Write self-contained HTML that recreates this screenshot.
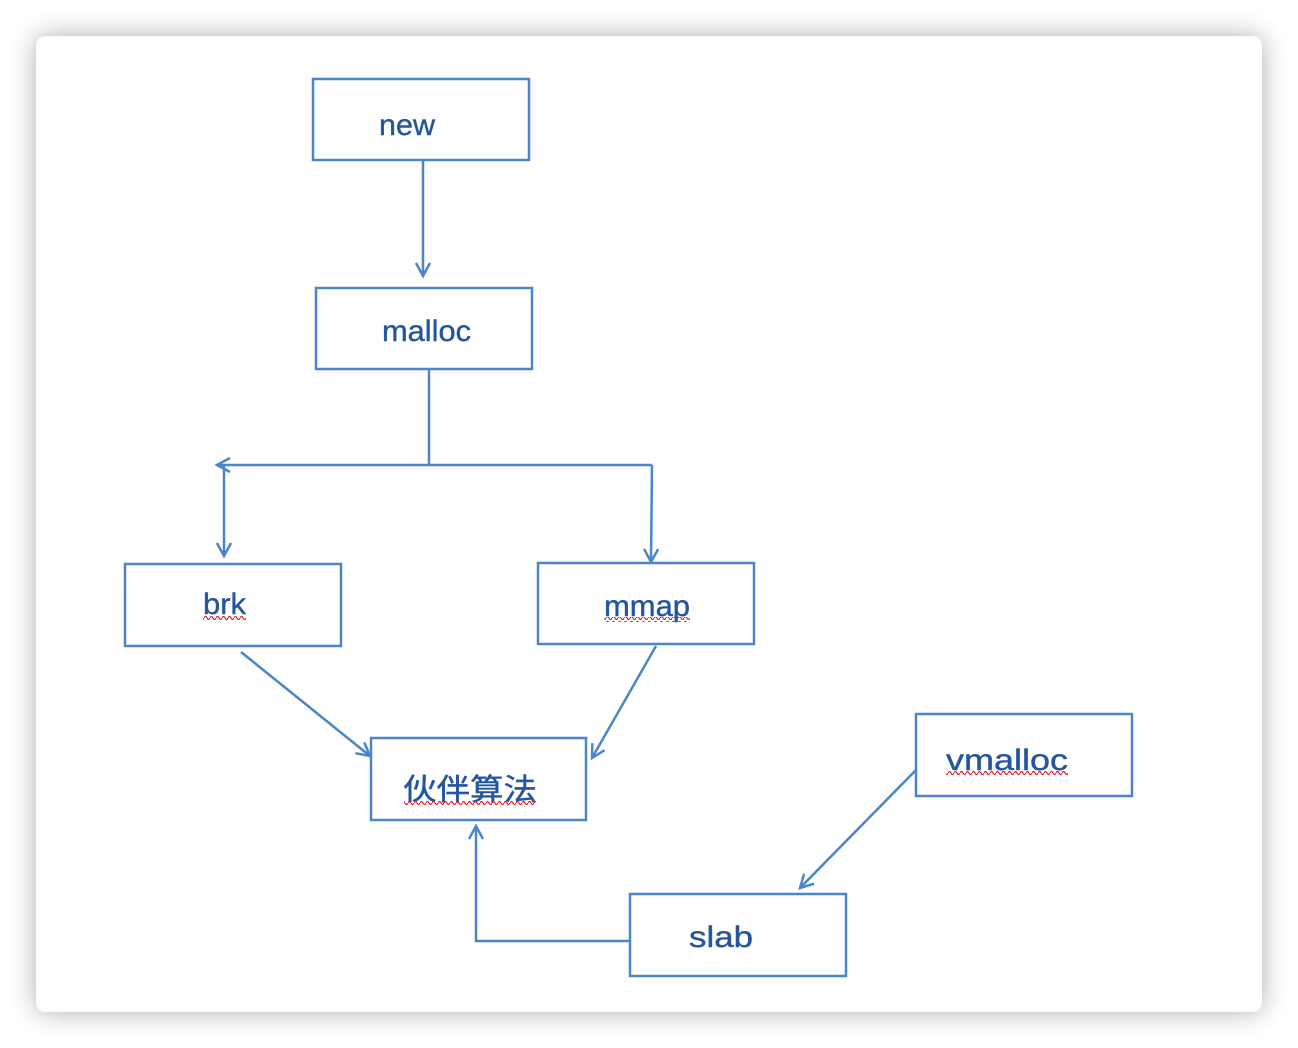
<!DOCTYPE html>
<html><head><meta charset="utf-8"><style>
html,body{margin:0;padding:0;background:#fff;}
body{width:1298px;height:1048px;position:relative;overflow:hidden;background:#fff;}
.card{position:absolute;left:36px;top:36px;width:1226px;height:976px;background:#fff;border-radius:10px;box-shadow:0 0 26px rgba(0,0,0,0.32);}
svg{position:absolute;left:0;top:0;}
text{font-family:"Liberation Sans","Noto Sans CJK SC",sans-serif;font-size:30px;fill:#2456a0;stroke:#2456a0;stroke-width:0.4;}
</style></head><body>
<div class="card"></div>
<svg width="1298" height="1048" viewBox="0 0 1298 1048">
<defs>
<marker id="a" markerWidth="20" markerHeight="20" refX="14" refY="8" orient="auto" markerUnits="userSpaceOnUse">
<path d="M1,1 L14,8 L1,15" fill="none" stroke="#4a86c8" stroke-width="2.5"/>
</marker>
<pattern id="w" width="6" height="5" patternUnits="userSpaceOnUse">
<path d="M0,3 Q1.5,0 3,3 T6,3" fill="none" stroke="#e02020" stroke-width="1.2"/>
</pattern>
</defs>
<g fill="none" stroke="#4a86c8" stroke-width="2.5">
<rect x="313" y="79" width="216" height="81"/>
<rect x="316" y="288" width="216" height="81"/>
<rect x="125" y="564" width="216" height="82"/>
<rect x="538" y="563" width="216" height="81"/>
<rect x="371" y="738" width="215" height="82"/>
<rect x="916" y="714" width="216" height="82"/>
<rect x="630" y="894" width="216" height="82"/>
<line x1="423" y1="160" x2="423" y2="276" marker-end="url(#a)"/>
<line x1="429" y1="369" x2="429" y2="464"/>
<line x1="652" y1="465" x2="217" y2="465" marker-end="url(#a)"/>
<line x1="224" y1="465" x2="224" y2="556" marker-end="url(#a)"/>
<line x1="652" y1="465" x2="651" y2="562" marker-end="url(#a)"/>
<line x1="241" y1="652" x2="370" y2="756" marker-end="url(#a)"/>
<line x1="656" y1="646" x2="592" y2="758" marker-end="url(#a)"/>
<line x1="916" y1="770" x2="800" y2="888" marker-end="url(#a)"/>
<polyline points="630,941 476,941 476,826" marker-end="url(#a)"/>
</g>
<text x="379" y="135" textLength="56" lengthAdjust="spacingAndGlyphs">new</text>
<text x="382" y="341" textLength="89" lengthAdjust="spacingAndGlyphs">malloc</text>
<text x="203" y="614" textLength="43" lengthAdjust="spacingAndGlyphs">brk</text>
<text x="604" y="616" textLength="86" lengthAdjust="spacingAndGlyphs">mmap</text>
<text x="403" y="800" textLength="134" lengthAdjust="spacingAndGlyphs">伙伴算法</text>
<text x="946" y="770" textLength="122" lengthAdjust="spacingAndGlyphs">vmalloc</text>
<text x="689" y="947" textLength="64" lengthAdjust="spacingAndGlyphs">slab</text>
<g fill="url(#w)">
<rect x="203" y="615" width="43" height="5"/>
<rect x="604" y="617" width="86" height="5"/>
<rect x="404" y="801" width="132" height="5"/>
<rect x="946" y="771" width="122" height="5"/>
</g>
</svg>
</body></html>
